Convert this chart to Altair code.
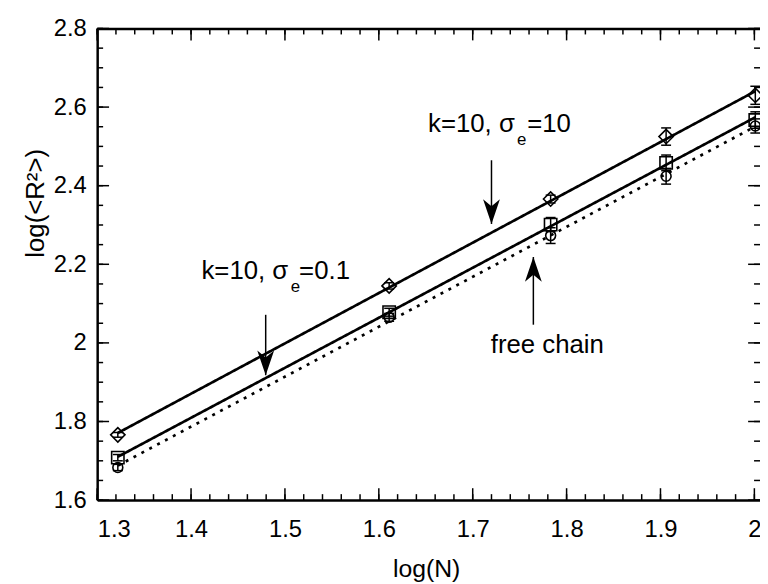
import altair as alt
import pandas as pd

# ---- data ----
LOG_N = [1.322, 1.611, 1.783, 1.906, 2.001]
Y_S10 = [1.766, 2.145, 2.366, 2.525, 2.630]     # k=10, sigma_e=10 (diamonds)
E_S10 = [0.006, 0.008, 0.010, 0.022, 0.023]
Y_S01 = [1.708, 2.078, 2.301, 2.458, 2.567]     # k=10, sigma_e=0.1 (squares)
E_S01 = [0.008, 0.010, 0.018, 0.020, 0.021]
Y_FREE = [1.683, 2.065, 2.273, 2.424, 2.552]    # free chain (circles)
E_FREE = [0.008, 0.010, 0.020, 0.020, 0.018]

SERIES = ["s10", "s01", "free"]
XMAJ = [1.3, 1.4, 1.5, 1.6, 1.7, 1.8, 1.9, 2.0]
YMAJ = [1.6, 1.8, 2.0, 2.2, 2.4, 2.6, 2.8]
XMIN = [round(1.3 + 0.02 * i, 2) for i in range(36)]
YMIN = [round(1.6 + 0.05 * i, 2) for i in range(25)]

# annotation texts (anchor in data units)
ANN_TEXT = ["k=10, σ", "=10", "k=10, σ", "=0.1", "free chain"]
ANN_X = [1.6524, 1.7580, 1.4111, 1.5151, 1.7192]
ANN_Y = [2.5378, 2.5378, 2.1622, 2.1622, 1.9732]
SUB_TEXT = ["e", "e"]
SUB_X = [1.7473, 1.5062]
SUB_Y = [2.5043, 2.1287]

ARR_X = [1.7200, 1.4795, 1.7646]
ARR_FROM = [2.4647, 2.0715, 2.0463]
ARR_TIP = [2.3026, 1.9177, 2.2185]
ARR_DIR = ["down", "down", "up"]

rows = []
for name, ys, es in [("s10", Y_S10, E_S10), ("s01", Y_S01, E_S01), ("free", Y_FREE, E_FREE)]:
    for x, y, e in zip(LOG_N, ys, es):
        rows.append(dict(series=name, x=x, y=y, lo=y - e, hi=y + e))
df = pd.DataFrame(rows)
ann = pd.DataFrame(dict(x=ANN_X, y=ANN_Y, t=ANN_TEXT))
sub = pd.DataFrame(dict(x=SUB_X, y=SUB_Y, t=SUB_TEXT))
arr = pd.DataFrame(dict(x=ARR_X, y0=ARR_FROM, y1=ARR_TIP, d=ARR_DIR))
txmaj = pd.DataFrame(dict(v=XMAJ))
txmin = pd.DataFrame(dict(v=XMIN))
tymaj = pd.DataFrame(dict(v=YMAJ))
tymin = pd.DataFrame(dict(v=YMIN))

W, H = 669, 476
FONT = "Liberation Sans"
xs = alt.Scale(domain=[1.3, 2.006], nice=False, zero=False)
ys = alt.Scale(domain=[1.6, 2.8], nice=False, zero=False)

LABFMT = "format(datum.value, '.1~f')"

ax_x_lab = alt.Axis(orient="bottom", values=XMAJ, labelExpr=LABFMT, ticks=False, tickSize=0,
                    domain=True, domainColor="black", domainWidth=2.5, grid=False,
                    labelFont=FONT, labelFontSize=24, labelColor="black", labelPadding=18,
                    title="log(N)", titleFont=FONT, titleFontSize=25, titleFontWeight="normal",
                    titleColor="black", titleX=332, titleY=77, titleAlign="center",
                    titleBaseline="alphabetic")
ax_y_lab = alt.Axis(orient="left", values=YMAJ, labelExpr=LABFMT, ticks=False, tickSize=0,
                    domain=True, domainColor="black", domainWidth=2.5, grid=False,
                    labelFont=FONT, labelFontSize=24, labelColor="black", labelPadding=11,
                    title="log(<R²>)", titleFont=FONT, titleFontSize=26, titleFontWeight="normal",
                    titleColor="black", titleX=-62, titleY=176, titleAngle=270,
                    titleAlign="center", titleBaseline="middle")
ax_top = alt.Axis(orient="top", labels=False, ticks=False, domain=True, domainColor="black",
                  domainWidth=2.5, grid=False, title=None)

base = alt.Chart(df)

lines = base.transform_regression("x", "y", groupby=["series"]).mark_line(
    color="black", strokeCap="butt").encode(
    x=alt.X("x:Q", scale=xs, axis=ax_x_lab),
    y=alt.Y("y:Q", scale=ys, axis=ax_y_lab),
    strokeDash=alt.StrokeDash("series:N", scale=alt.Scale(domain=SERIES, range=[[1, 0], [1, 0], [3, 6]]),
                              legend=None),
    strokeWidth=alt.StrokeWidth("series:N", scale=alt.Scale(domain=SERIES, range=[2.7, 2.7, 3]),
                                legend=None),
)

ebars = base.mark_rule(color="black", strokeWidth=1.5).encode(
    x=alt.X("x:Q", scale=xs, axis=ax_top),
    y=alt.Y("lo:Q", scale=ys, axis=None),
    y2="hi:Q",
)

cap_lo = base.mark_point(shape="stroke", size=100, strokeWidth=1.5, color="black", opacity=1).encode(
    x=alt.X("x:Q", scale=xs, axis=None), y=alt.Y("lo:Q", scale=ys, axis=None))
cap_hi = base.mark_point(shape="stroke", size=100, strokeWidth=1.5, color="black", opacity=1).encode(
    x=alt.X("x:Q", scale=xs, axis=None), y=alt.Y("hi:Q", scale=ys, axis=None))

points = base.mark_point(filled=False, strokeWidth=1.6, color="black", opacity=1).encode(
    x=alt.X("x:Q", scale=xs, axis=None),
    y=alt.Y("y:Q", scale=ys, axis=None),
    shape=alt.Shape("series:N", scale=alt.Scale(domain=SERIES, range=["diamond", "square", "circle"]),
                    legend=None),
    size=alt.Size("series:N", scale=alt.Scale(domain=SERIES, range=[210, 100, 100]), legend=None),
)


# inward frame ticks (values from the tick lists, drawn through the scales)
def xticks(src, length):
    bot = alt.Chart(src).mark_rule(color="black", strokeWidth=1.5).encode(
        x=alt.X("v:Q", scale=xs, axis=None), y=alt.value(H), y2=alt.value(H - length))
    top = alt.Chart(src).mark_rule(color="black", strokeWidth=1.5).encode(
        x=alt.X("v:Q", scale=xs, axis=None), y=alt.value(0), y2=alt.value(length))
    return [bot, top]


def yticks(src, length):
    left = alt.Chart(src).mark_rule(color="black", strokeWidth=1.5).encode(
        y=alt.Y("v:Q", scale=ys, axis=None), x=alt.value(0), x2=alt.value(length))
    right = alt.Chart(src).mark_rule(color="black", strokeWidth=1.5).encode(
        y=alt.Y("v:Q", scale=ys, axis=None), x=alt.value(W), x2=alt.value(W - length))
    return [left, right]


frame_ticks = xticks(txmaj, 12) + xticks(txmin, 6) + yticks(tymaj, 12) + yticks(tymin, 6)

texts = alt.Chart(ann).mark_text(align="left", baseline="alphabetic", font=FONT, fontSize=26,
                                 color="black").encode(
    x=alt.X("x:Q", scale=xs, axis=None), y=alt.Y("y:Q", scale=ys, axis=None), text="t:N")
subs = alt.Chart(sub).mark_text(align="left", baseline="alphabetic", font=FONT, fontSize=17,
                                color="black").encode(
    x=alt.X("x:Q", scale=xs, axis=None), y=alt.Y("y:Q", scale=ys, axis=None), text="t:N")

shafts = alt.Chart(arr).mark_rule(color="black", strokeWidth=1.5).encode(
    x=alt.X("x:Q", scale=xs, axis=None), y=alt.Y("y0:Q", scale=ys, axis=None), y2="y1:Q")
DOWN = "M0,0 L-0.34,-1 L0,-0.72 L0.34,-1 Z"
UP = "M0,0 L-0.34,1 L0,0.72 L0.34,1 Z"
heads_down = alt.Chart(arr).transform_filter("datum.d == 'down'").mark_point(
    shape=DOWN, filled=True, color="black", size=2500, opacity=1, strokeWidth=0).encode(
    x=alt.X("x:Q", scale=xs, axis=None), y=alt.Y("y1:Q", scale=ys, axis=None))
heads_up = alt.Chart(arr).transform_filter("datum.d == 'up'").mark_point(
    shape=UP, filled=True, color="black", size=2500, opacity=1, strokeWidth=0).encode(
    x=alt.X("x:Q", scale=xs, axis=None), y=alt.Y("y1:Q", scale=ys, axis=None))

chart = alt.layer(lines, ebars, cap_lo, cap_hi, points, *frame_ticks, texts, subs, shafts,
                  heads_down, heads_up).resolve_axis(
    x="independent", y="independent"
).properties(
    width=W, height=H,
    autosize=alt.AutoSizeParams(type="none"),
    padding={"left": 90, "top": 18, "right": 0, "bottom": 82},
).configure_view(stroke=None).configure(background="white")

chart.save("out.html", embed_options={"renderer": "svg", "actions": False})
